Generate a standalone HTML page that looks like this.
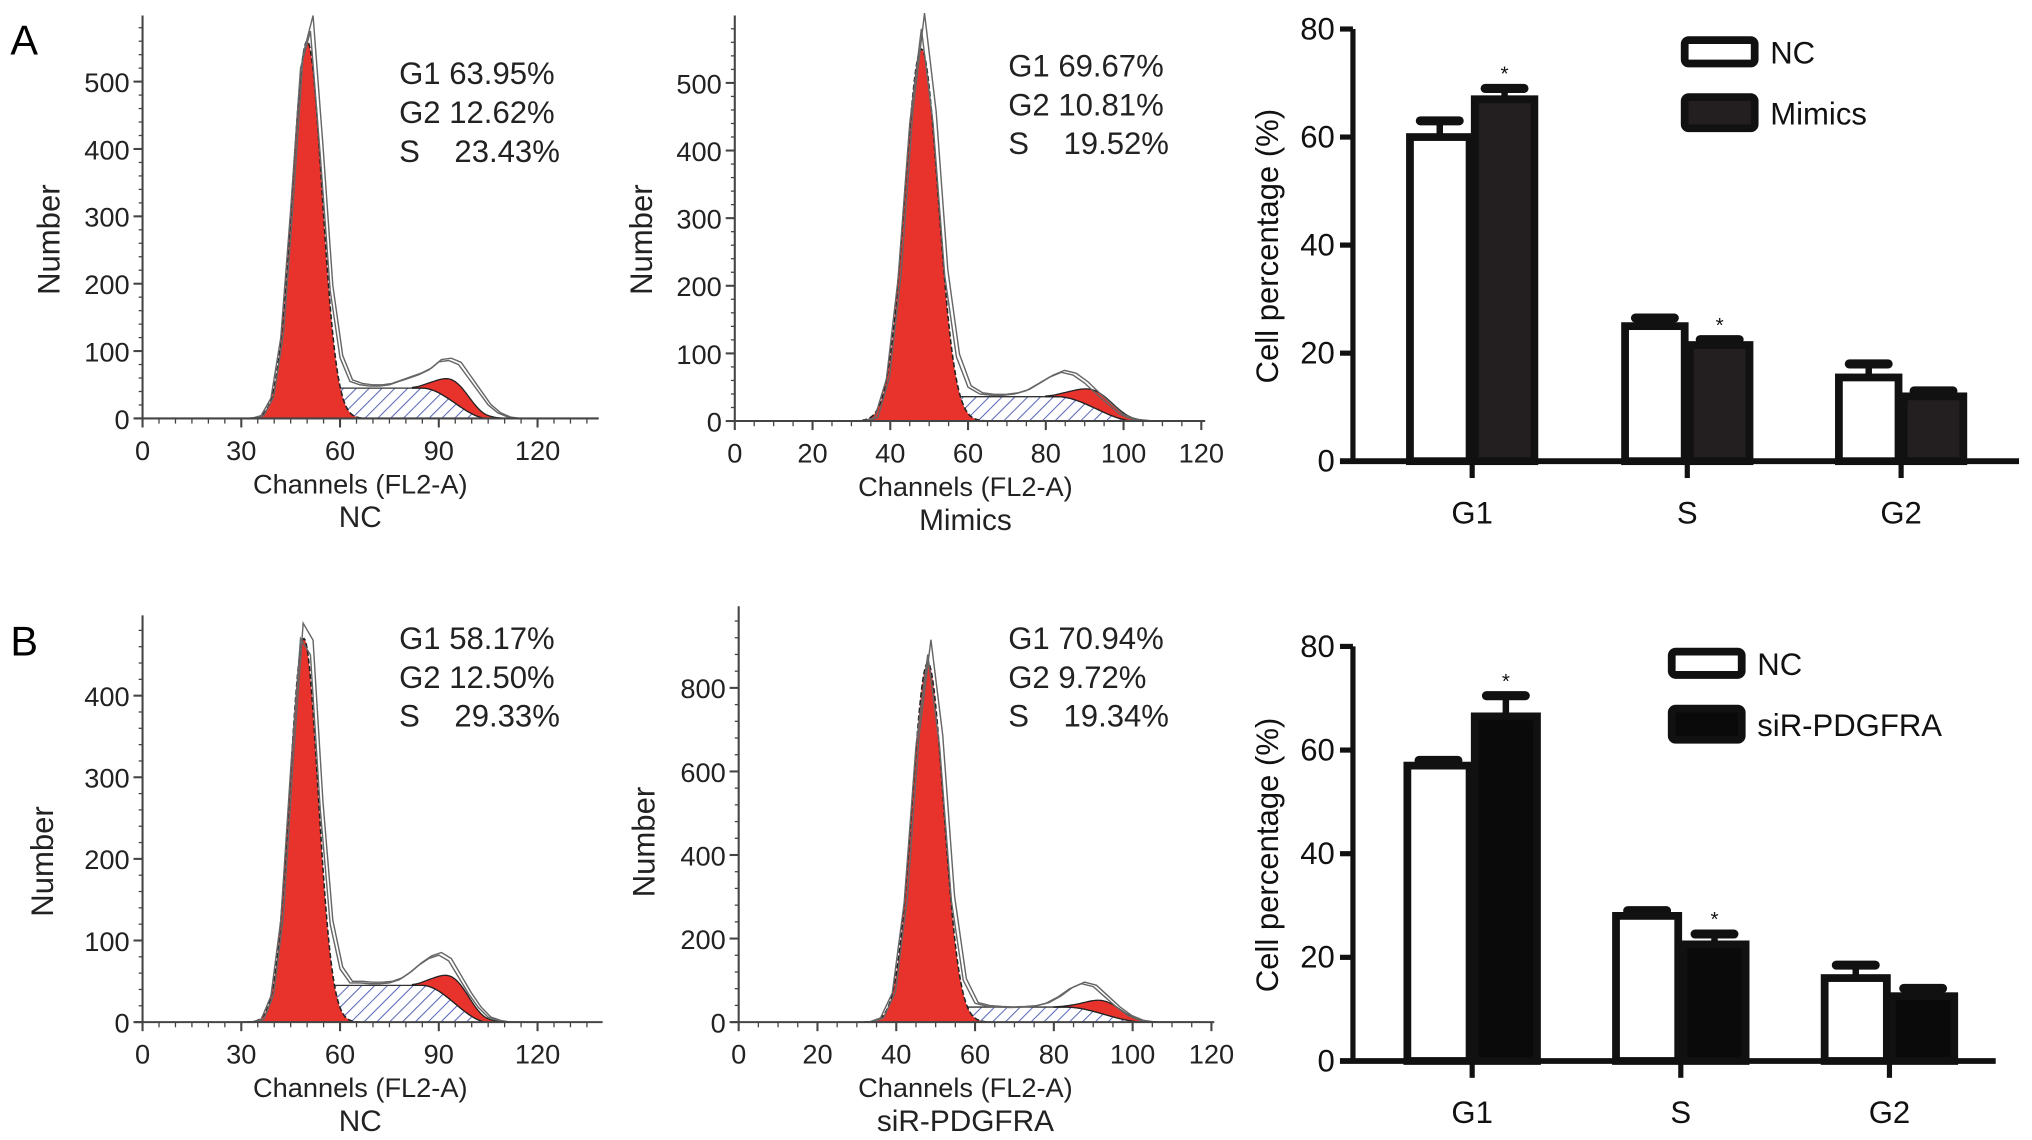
<!DOCTYPE html>
<html><head><meta charset="utf-8"><style>
html,body{margin:0;padding:0;background:#fff;}
svg{display:block;font-family:"Liberation Sans",Arial,sans-serif;}
.pre{white-space:pre;}
</style></head><body>
<svg id="fig" width="2032" height="1140" viewBox="0 0 1568 880" preserveAspectRatio="none">
<defs>
<pattern id="hatch" patternUnits="userSpaceOnUse" width="7" height="7" patternTransform="rotate(45)">
<rect width="7" height="7" fill="#fff"/><line x1="0" y1="0" x2="0" y2="7" stroke="#5a68b8" stroke-width="1.6"/>
</pattern>
</defs>
<text x="8" y="42" font-size="32">A</text>
<text x="8" y="506" font-size="32">B</text>
</svg>
<script>
// ---- histogram data (counts at channels) ----
const rawChannels = [30,33,36,39,42,45,48,51,54,57,60,63,66,69,72,75,78,81,84,87,90,93,96,99,102,105,108,111,114,117];
const rawA1 = [0,0,4,30,120,310,520,575,390,190,90,55,50,48,48,50,55,60,65,72,84,86,80,60,40,20,8,2,0,0];
const rawA2 = [0,0,5,62,210,440,580,440,215,95,50,40,38,38,40,45,55,65,72,68,56,40,25,10,3,0,0,0,0,0];
const rawB1 = [0,0,3,32,125,310,470,450,260,120,65,48,48,47,47,48,52,60,70,78,82,75,55,35,18,6,2,0,0,0];
const rawB2 = [0,0,10,70,285,660,880,660,290,100,45,38,36,35,36,38,45,60,80,92,85,60,35,15,4,0,0,0,0,0];
// fit params: [g1Mean, g1Height, g1Sd, sLevel, g2Mean, g2Height, g2Sd]
const fitA1 = [50, 560, 4.5, 45, 95, 32, 5.0];
const fitA2 = [48, 550, 4.3, 36, 93, 26, 5.0];
const fitB1 = [49, 470, 4.3, 45, 95, 30, 5.0];
const fitB2 = [48, 860, 4.0, 36, 93, 32, 4.5];
const pctLabelsA1 = ["G1 63.95%","G2 12.62%","S    23.43%"];
const pctLabelsA2 = ["G1 69.67%","G2 10.81%","S    19.52%"];
const pctLabelsB1 = ["G1 58.17%","G2 12.50%","S    29.33%"];
const pctLabelsB2 = ["G1 70.94%","G2 9.72%","S    19.34%"];
const xTicksA1 = [0,30,60,90,120];
const xTicksA2 = [0,20,40,60,80,100,120];
const yTicksA = [0,100,200,300,400,500];
const yTicksB1 = [0,100,200,300,400];
const yTicksB2 = [0,200,400,600,800];
// ---- bar data ----
const phases = ["G1","S","G2"];
const barA_NC = [60,25,15.5];
const barA_NC_err = [3,1.5,2.5];
const barA_T = [67,21.5,12];
const barA_T_err = [2,1,1];
const barB_NC = [57,28,16];
const barB_NC_err = [1,1,2.5];
const barB_T = [66.5,22.5,12.5];
const barB_T_err = [4,2,1.5];
const barYTicks = [0,20,40,60,80];

const NS="http://www.w3.org/2000/svg";
const svg=document.getElementById('fig');
function el(tag,attrs,parent,text){const e=document.createElementNS(NS,tag);for(const k in attrs)e.setAttribute(k,attrs[k]);if(text!==undefined)e.textContent=text;(parent||svg).appendChild(e);return e;}

function hist(name,raw,fit,labels,xt,yt,f){
  const g=el('g',{});
  
  
  const X=c=>f.x0+c*f.xs, Y=v=>f.y0-v*f.ys;
  const [m1,h1,s1,sl,m2,h2,s2]=fit;
  const gauss=(c,m,h,s)=>h*Math.exp(-((c-m)*(c-m))/(2*s*s));
  const sfun=c=>{ if(c<m1-7) return 0; if(c<m1+8){const t=(c-(m1-7))/15;return sl*(t*t*(3-2*t));} if(c<m2-10) return sl; if(c<m2+10){const t=(c-(m2-10))/20;return sl*(1-t*t*(3-2*t));} return 0;};
  let d='M'+X(m1-7)+','+Y(0);
  for(let c=m1-7;c<=m2+10;c+=0.5) d+=' L'+X(c)+','+Y(sfun(c));
  d+=' L'+X(m2+10)+','+Y(0)+' Z';
  const sp=el('path',{d:d,fill:'url(#hatch)',stroke:'#333','stroke-width':1},g);
  
  
  let top=[],bot=[];
  for(let c=m2-13;c<=m2+15;c+=0.5){const s=sfun(c),gv=gauss(c,m2,h2,s2);top.push(X(c)+','+Y(s+gv));bot.unshift(X(c)+','+Y(s));}
  const g2p=el('path',{d:'M'+top.join(' L')+' L'+bot.join(' L')+' Z',fill:'#e8322c',stroke:'#222','stroke-width':1},g);
  
  
  d='M'+X(m1-4*s1)+','+Y(0);
  for(let c=m1-4*s1;c<=m1+4*s1;c+=0.25) d+=' L'+X(c)+','+Y(gauss(c,m1,h1,s1));
  d+=' Z';
  const g1p=el('path',{d:d,fill:'#e8322c',stroke:'#222','stroke-width':1.2,'stroke-dasharray':'4,2'},g);
  
  
  for(let k=0;k<2;k++){
    const pts=raw.map((v,i)=>X(rawChannels[i]+k*0.8)+','+Y(v*(1+k*0.04)));
    const rl=el('polyline',{points:pts.join(' '),fill:'none',stroke:'#666','stroke-width':1.1},g);
    
    
  }
  el('line',{x1:f.x0,y1:f.top,x2:f.x0,y2:f.y0,stroke:'#444','stroke-width':1.6},g);
  el('line',{x1:f.x0-6,y1:f.y0,x2:f.xend,y2:f.y0,stroke:'#444','stroke-width':1.6},g);
  const ymax=(f.y0-f.top)/f.ys;
  for(let v=0;v<=ymax;v+=f.ymin) el('line',{x1:f.x0-3,y1:Y(v),x2:f.x0,y2:Y(v),stroke:'#444','stroke-width':1},g);
  for(let c=0;X(c)<=f.xend;c+=f.xmin) el('line',{x1:X(c),y1:f.y0,x2:X(c),y2:f.y0+4,stroke:'#444','stroke-width':1},g);
  yt.forEach(v=>{el('line',{x1:f.x0-7,y1:Y(v),x2:f.x0,y2:Y(v),stroke:'#444','stroke-width':1.6},g);
    const t=el('text',{x:f.x0-10,y:Y(v)+8,'font-size':21,'text-anchor':'end',fill:'#222'},g,String(v));
    });
  xt.forEach(v=>{el('line',{x1:X(v),y1:f.y0,x2:X(v),y2:f.y0+7,stroke:'#444','stroke-width':1.6},g);
    const t=el('text',{x:X(v),y:f.y0+32,'font-size':21,'text-anchor':'middle',fill:'#222'},g,String(v));
    });
  const yl=el('text',{x:f.ylx,y:f.yly,'font-size':24,'text-anchor':'middle',transform:'rotate(-90 '+f.ylx+' '+f.yly+')',fill:'#222'},g,'Number');
  
  const xl=el('text',{x:f.cx,y:f.y0+58,'font-size':21,'text-anchor':'middle',fill:'#222'},g,'Channels (FL2-A)');
  
  const sub=el('text',{x:f.cx,y:f.y0+84,'font-size':23,'text-anchor':'middle',fill:'#222'},g,f.sub);
  
  labels.forEach((s,i)=>{const t=el('text',{x:f.lx,y:f.ly+i*30,'font-size':24,fill:'#222','class':'pre'},g,s);
    });
}
hist('histogram-a-nc',rawA1,fitA1,pctLabelsA1,xTicksA1,yTicksA,{x0:110,xs:2.54,y0:323,ys:0.52,top:12,xend:462,ymin:20,xmin:5,ylx:46,yly:185,cx:278,sub:'NC',lx:308,ly:65});
hist('histogram-a-mimics',rawA2,fitA2,pctLabelsA2,xTicksA2,yTicksA,{x0:567,xs:3.0,y0:325,ys:0.522,top:12,xend:930,ymin:20,xmin:5,ylx:503,yly:185,cx:745,sub:'Mimics',lx:778,ly:59});
hist('histogram-b-nc',rawB1,fitB1,pctLabelsB1,xTicksA1,yTicksB1,{x0:110,xs:2.54,y0:789,ys:0.63,top:475,xend:465,ymin:20,xmin:5,ylx:41,yly:665,cx:278,sub:'NC',lx:308,ly:501});
hist('histogram-b-sir',rawB2,fitB2,pctLabelsB2,xTicksA2,yTicksB2,{x0:570,xs:3.04,y0:789,ys:0.3225,top:468,xend:937,ymin:40,xmin:5,ylx:505,yly:650,cx:745,sub:'siR-PDGFRA',lx:778,ly:501});

function bars(name,nc,ncE,tr,trE,trName,f){
  const g=el('g',{});
  
  
  const Y=v=>f.y0-v*f.ys;
  const bw=f.bw;
  phases.forEach((p,i)=>{
    const cx=f.c[i];
    [[nc[i],ncE[i],'#fff',cx-bw-2,'bar-nc-'+p.toLowerCase()],[tr[i],trE[i],f.col,cx+2,'bar-treat-'+p.toLowerCase()]].forEach(([v,e,fill,x,nm],k)=>{
      const mid=x+bw/2;
      const ew=el('line',{x1:mid,y1:Y(v),x2:mid,y2:Y(v+e),stroke:'#111','stroke-width':5},g);
      
      el('line',{x1:mid-15,y1:Y(v+e),x2:mid+15,y2:Y(v+e),stroke:'#111','stroke-width':7,'stroke-linecap':'round'},g);
      const r=el('rect',{x:x,y:Y(v),width:bw,height:f.y0-Y(v),fill:fill,stroke:'#111','stroke-width':6},g);
      
      if(k===1 && i<2){const s=el('text',{x:mid,y:Y(v+e)-6,'font-size':16,'text-anchor':'middle',fill:'#111'},g,'*');
        }
    });
    el('line',{x1:cx,y1:f.y0,x2:cx,y2:f.y0+13,stroke:'#111','stroke-width':4},g);
    const t=el('text',{x:cx,y:f.y0+48,'font-size':24,'text-anchor':'middle',fill:'#111'},g,p);
    
  });
  el('line',{x1:f.x0,y1:Y(80),x2:f.x0,y2:f.y0,stroke:'#111','stroke-width':4},g);
  el('line',{x1:f.x0-10,y1:f.y0,x2:f.xend,y2:f.y0,stroke:'#111','stroke-width':4.5},g);
  barYTicks.forEach(v=>{el('line',{x1:f.x0-10,y1:Y(v),x2:f.x0,y2:Y(v),stroke:'#111','stroke-width':4},g);
    const t=el('text',{x:f.x0-14,y:Y(v)+8,'font-size':24,'text-anchor':'end',fill:'#111'},g,String(v));
    });
  const yl=el('text',{x:f.ylx,y:f.yly,'font-size':24,'text-anchor':'middle',transform:'rotate(-90 '+f.ylx+' '+f.yly+')',fill:'#111'},g,'Cell percentage (%)');
  
  [['NC','#fff',f.ly],[trName,f.col,f.ly+44]].forEach(([s,c,y],k)=>{
    const r=el('rect',{x:f.lx,y:y,width:54,height:k?24:18,rx:3,fill:c,stroke:'#111','stroke-width':6},g);
    
    const t=el('text',{x:f.lx+66,y:y+(k?21:18),'font-size':24,fill:'#111'},g,s);
    
  });
}
bars('bar-chart-a',barA_NC,barA_NC_err,barA_T,barA_T_err,'Mimics',{x0:1044,xend:1558,y0:356,ys:4.17,bw:46,c:[1136,1302,1467],col:'#231f20',ylx:986,yly:190,lx:1300,ly:31});
bars('bar-chart-b',barB_NC,barB_NC_err,barB_T,barB_T_err,'siR-PDGFRA',{x0:1044,xend:1540,y0:819,ys:4.0,bw:48,c:[1136,1297,1458],col:'#0a0a0a',ylx:986,yly:660,lx:1290,ly:503});
</script>
</body></html>
